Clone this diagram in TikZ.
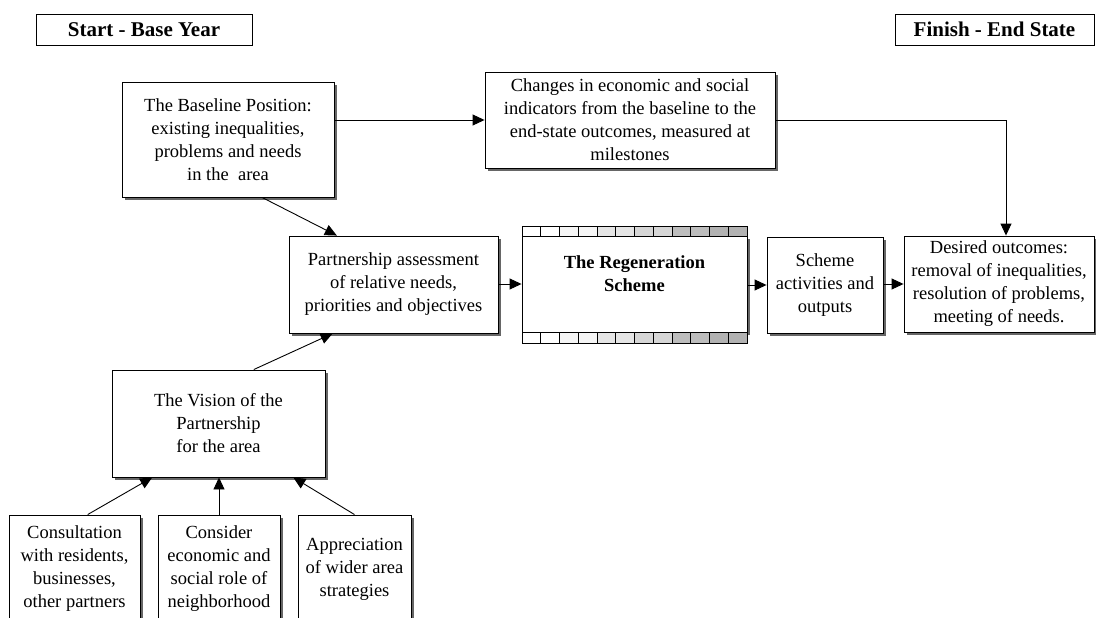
\documentclass[tikz,border=0pt]{standalone}
\usepackage{fontspec}
\setmainfont{Liberation Serif}
\usetikzlibrary{arrows.meta,shadows,calc}
\tikzset{
  box/.style={draw, line width=0.9pt, fill=white, inner sep=0pt, align=center,
    font=\fontsize{18.5}{23}\selectfont,
    drop shadow={shadow xshift=3pt, shadow yshift=-3pt, fill=black!60, opacity=1}},
  head/.style={draw, line width=0.9pt, fill=white, inner sep=0pt,
    font=\bfseries\fontsize{21}{24}\selectfont},
  arr/.style={line width=0.9pt, -{Triangle[length=12pt,width=11pt]}},
  cellbox/.style={draw, line width=0.6pt},
}
\begin{document}
\begin{tikzpicture}[x=1pt,y=-1pt]
\useasboundingbox (0,0) rectangle (1096,618);
\clip (0,0) rectangle (1096,618);

\node[head, minimum width=216pt, minimum height=31pt] (start) at (144,29.5) {Start - Base Year};
\node[head, minimum width=199pt, minimum height=31pt] (finish) at (994.5,29.5) {Finish - End State};

\node[box, minimum width=212pt, minimum height=115pt] (baseline) at (228,139.5)
  {The Baseline Position:\\existing inequalities,\\problems and needs\\in the~ area};
\node[box, minimum width=290pt, minimum height=96pt] (changes) at (630,120)
  {Changes in economic and social\\indicators from the baseline to the\\end-state outcomes, measured at\\milestones};
\node[box, minimum width=209pt, minimum height=97pt] (partner) at (393.5,284.5)
  {Partnership assessment\\of relative needs,\\priorities and objectives};

% regeneration scheme
\node[box, minimum width=225pt, minimum height=96pt] (regen) at (634.5,284) {};
\foreach \i/\c in {0/white,1/white,2/black!4,3/black!4,4/black!10,5/black!10,6/black!16,7/black!16,8/black!26,9/black!26,10/black!30,11/black!30}{
  \filldraw[cellbox, fill=\c] ({522+\i*18.75},226) rectangle ({522+(\i+1)*18.75},236);
  \filldraw[cellbox, fill=\c] ({522+\i*18.75},332) rectangle ({522+(\i+1)*18.75},343);
}
\draw[line width=0.9pt] (522,226) rectangle (747,343);
\node[align=center, font=\bfseries\fontsize{18.5}{23}\selectfont] (regentext) at (634.5,273.5)
  {The Regeneration\\Scheme};

\node[box, minimum width=116pt, minimum height=96pt] (scheme) at (825,285)
  {Scheme\\activities and\\outputs};
\node[box, minimum width=190pt, minimum height=96pt] (desired) at (999,284)
  {Desired outcomes:\\removal of inequalities,\\resolution of problems,\\meeting of needs.};

\node[box, minimum width=213pt, minimum height=107pt] (vision) at (218.5,423.5)
  {The Vision of the\\Partnership\\for the area};

\node[box, minimum width=131pt, minimum height=108pt] (consult) at (74.5,569)
  {Consultation\\with residents,\\businesses,\\other partners};
\node[box, minimum width=122pt, minimum height=108pt] (consider) at (219,569)
  {Consider\\economic and\\social role of\\neighborhood};
\node[box, minimum width=113pt, minimum height=108pt] (apprec) at (354.5,569)
  {Appreciation\\of wider area\\strategies};

% connectors
\draw[arr] (baseline.east |- changes.west) -- (changes.west);
\coordinate (turn) at (1006,120);
\draw[arr] (changes.east) -- (turn) -- (turn |- desired.north);
\draw[arr] ($(baseline.south west)!0.66!(baseline.south east)$) -- ($(partner.north west)!0.23!(partner.north east)$);
\draw[arr] ($(vision.north west)!0.665!(vision.north east)$) -- ($(partner.south west)!0.21!(partner.south east)$);
\draw[arr] (partner.east |- regen.west) -- (regen.west);
\draw[arr] (regen.east |- scheme.west) -- (scheme.west);
\draw[arr] (scheme.east |- desired.west) -- (desired.west);
\draw[arr] ($(consult.north west)!0.6!(consult.north east)$) -- ($(vision.south west)!0.19!(vision.south east)$);
\draw[arr] (consider.north) -- (consider.north |- vision.south);
\draw[arr] (apprec.north) -- ($(vision.south west)!0.85!(vision.south east)$);
\end{tikzpicture}
\end{document}
